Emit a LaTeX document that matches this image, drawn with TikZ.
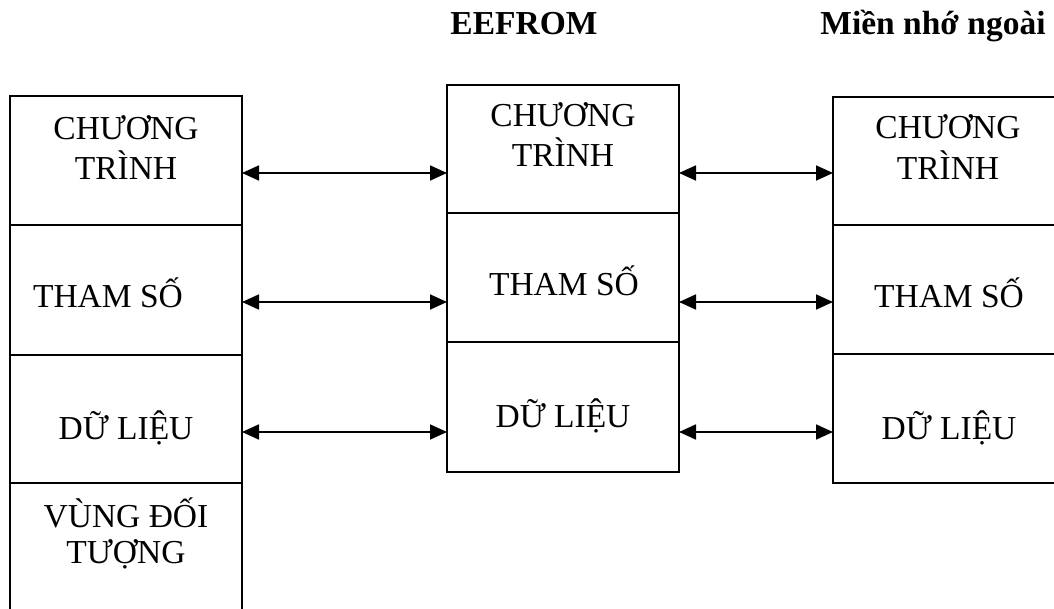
\documentclass[tikz,border=0pt]{standalone}
\usepackage{fontspec}
\setmainfont{Liberation Serif}
\usetikzlibrary{arrows.meta}
\begin{document}
\begin{tikzpicture}[x=1pt,y=-1pt,
  cell/.style={draw, line width=1.8pt, minimum width=232pt, minimum height=#1,
    anchor=north west, inner sep=0pt, outer sep=0pt},
  lbl/.style={anchor=base, inner sep=0pt, font=\fontsize{33.5}{40}\selectfont},
  ttl/.style={anchor=base, inner sep=0pt, font=\fontsize{33.5}{40}\selectfont\bfseries},
  link/.style={{Triangle[length=17pt,width=15pt]}-{Triangle[length=17pt,width=15pt]},
    line width=1.8pt}]
\useasboundingbox (0,0) rectangle (1054,609);
\clip (0,0) rectangle (1054,609);

% column headings
\node[ttl] (tm) at (524,35) {EEFROM};
\node[ttl] (tr) at (933,35) {Miền nhớ ngoài};

% left column
\node[cell=129pt] (L1) at (10,96) {};
\node[cell=130pt] (L2) at (10,225) {};
\node[cell=128pt] (L3) at (10,355) {};
\node[cell=140pt] (L4) at (10,483) {};
\node[lbl] (l1a) at (126,140) {CHƯƠNG};
\node[lbl] (l1b) at (126,180) {TRÌNH};
\node[lbl] (l2) at (108,308) {THAM SỐ};
\node[lbl] (l3) at (126,439) {DỮ LIỆU};
\node[lbl] (l4a) at (126,527) {VÙNG ĐỐI};
\node[lbl] (l4b) at (126,563) {TƯỢNG};

% middle column
\node[cell=128pt] (M1) at (447,85) {};
\node[cell=129pt] (M2) at (447,213) {};
\node[cell=130pt] (M3) at (447,342) {};
\node[lbl] (m1a) at (563,127) {CHƯƠNG};
\node[lbl] (m1b) at (563,167) {TRÌNH};
\node[lbl] (m2) at (564,296) {THAM SỐ};
\node[lbl] (m3) at (563,427) {DỮ LIỆU};

% right column
\node[cell=128pt] (R1) at (833,97) {};
\node[cell=129pt] (R2) at (833,225) {};
\node[cell=129pt] (R3) at (833,354) {};
\node[lbl] (r1a) at (948,139) {CHƯƠNG};
\node[lbl] (r1b) at (948,180) {TRÌNH};
\node[lbl] (r2) at (949,308) {THAM SỐ};
\node[lbl] (r3) at (949,439) {DỮ LIỆU};

% arrow levels
\coordinate (y1) at (0,173);
\coordinate (y2) at (0,302);
\coordinate (y3) at (0,432);

% two-way transfers
\draw[link] (L1.east |- y1) -- (M1.west |- y1);
\draw[link] (L2.east |- y2) -- (M2.west |- y2);
\draw[link] (L3.east |- y3) -- (M3.west |- y3);
\draw[link] (M1.east |- y1) -- (R1.west |- y1);
\draw[link] (M2.east |- y2) -- (R2.west |- y2);
\draw[link] (M3.east |- y3) -- (R3.west |- y3);
\end{tikzpicture}
\end{document}
